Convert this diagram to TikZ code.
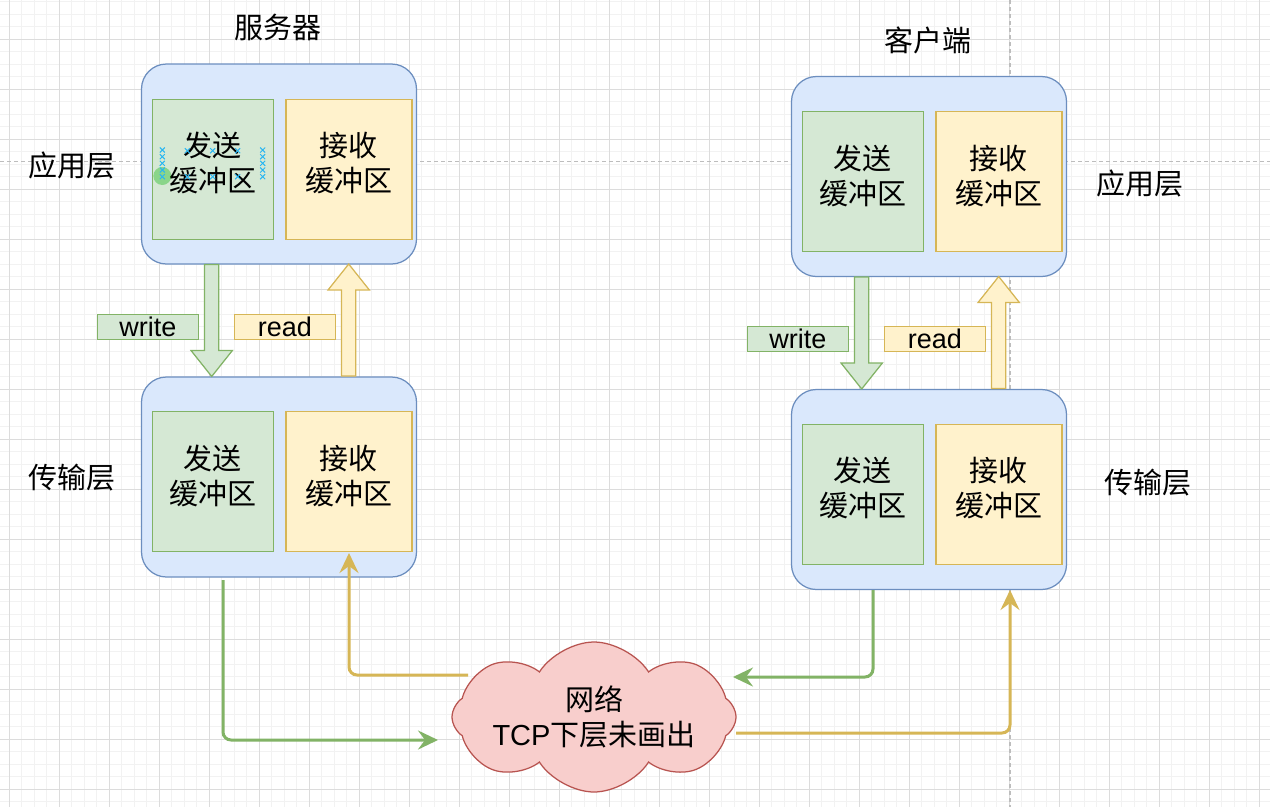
\documentclass[tikz,border=0pt]{standalone}
\usepackage{fontspec}
\setmainfont{Liberation Sans}
\newfontfamily\cjk{Noto Sans CJK SC}
\usepackage{tikz}
\usetikzlibrary{positioning, shapes.symbols, shapes.arrows, arrows.meta}
\definecolor{layerbg}{HTML}{DAE8FC}
\definecolor{layerframe}{HTML}{6C8EBF}
\definecolor{sendbg}{HTML}{D5E8D4}
\definecolor{sendframe}{HTML}{82B366}
\definecolor{recvbg}{HTML}{FFF2CC}
\definecolor{recvframe}{HTML}{D6B656}
\definecolor{netbg}{HTML}{F8CECC}
\definecolor{netframe}{HTML}{B85450}
\definecolor{gridminor}{HTML}{F2F2F2}
\definecolor{gridmajor}{HTML}{DCDCDC}
\definecolor{guideline}{HTML}{BDBDBD}
\definecolor{selmark}{HTML}{29B6F2}
\newcommand\bigtxt{\fontsize{29}{35}\selectfont}

\begin{document}
\begin{tikzpicture}[
        x=1pt, y=-1pt,
        layer/.style={draw=layerframe, fill=layerbg, line width=1.25pt, rounded corners=25pt, minimum width=275pt, minimum height=200pt},
        sendbuf/.style={draw=sendframe, fill=sendbg, line width=1.25pt, minimum width=121pt, minimum height=140pt, inner sep=0pt, text depth=14pt, align=center, font=\bigtxt\cjk},
        recvbuf/.style={draw=recvframe, fill=recvbg, line width=1.25pt, minimum width=126pt, minimum height=140pt, inner sep=0pt, text depth=14pt, align=center, font=\bigtxt\cjk},
        lbl/.style={font=\bigtxt\cjk, inner sep=0pt},
        wtag/.style={draw=sendframe, fill=sendbg, line width=1.25pt, minimum width=101pt, minimum height=25pt, inner sep=0pt, font=\fontsize{27}{30}\selectfont},
        rtag/.style={draw=recvframe, fill=recvbg, line width=1.25pt, minimum width=101pt, minimum height=25pt, inner sep=0pt, font=\fontsize{27}{30}\selectfont},
        blk/.style={single arrow, line width=1.25pt, inner xsep=0pt, inner ysep=6.5pt, single arrow head extend=13.5pt, single arrow tip angle=77, minimum height=112pt},
        wblk/.style={blk, draw=sendframe, fill=sendbg},
        rblk/.style={blk, draw=recvframe, fill=recvbg},
        sendline/.style={draw=sendframe, line width=3pt, rounded corners=8pt, -{Stealth[length=20pt, width=19pt, inset=7pt]}},
        recvline/.style={draw=recvframe, line width=3pt, rounded corners=8pt, -{Stealth[length=20pt, width=19pt, inset=7pt]}},
        minorg/.style={draw=gridminor, line width=1pt},
        majorg/.style={draw=gridmajor, line width=1pt},
        guide/.style={draw=guideline, line width=1.25pt, dash pattern=on 4pt off 3pt},
        selx/.style={draw=selmark, line width=1pt}
    ]
    \useasboundingbox (0,0) rectangle (1270,807);
    \fill[white] (0,0) rectangle (1270,807);

    % background grid
    \foreach \i in {0,...,102} \draw[minorg] ({-3.2+12.5*\i},0) -- ++(0,807);
    \foreach \i in {0,...,64} \draw[minorg] (0,{1.8+12.5*\i}) -- ++(1270,0);
    \foreach \i in {0,...,25} \draw[majorg] ({9.3+50*\i},0) -- ++(0,807);
    \foreach \i in {0,...,15} \draw[majorg] (0,{39.3+50*\i}) -- ++(1270,0);
    \draw[guide] (0,161.7) -- (1270,161.7);
    \draw[guide] (1010,0) -- (1010,807);

    % server
    \node[lbl] (srvname) at (278,27) {服务器};
    \node[layer] (srvapp) at (279,164) {};
    \node[sendbuf] (srvsend) at (212.8,169.2) {发送\\缓冲区};
    \node[recvbuf, right=11.4pt of srvsend] (srvrecv) {接收\\缓冲区};
    \node[layer] (srvtrans) at (279,477) {};
    \node[sendbuf] (srvtsend) at (212.8,481.7) {发送\\缓冲区};
    \node[recvbuf, right=11.4pt of srvtsend] (srvtrecv) {接收\\缓冲区};
    \node[lbl] (srvapplbl) at (72,165) {应用层};
    \node[lbl] (srvtranslbl) at (72,478) {传输层};
    \node[wblk, rotate=-90] (srvw) at (211.7,316) {};
    \node[rblk, rotate=90] (srvr) at (348.7,324.5) {};
    \node[wtag] (srvwtag) at (147.8,326.7) {write};
    \node[rtag] (srvrtag) at (285,326.7) {read};

    % selection marks
    \fill[green!70!black, opacity=0.35] (162.3,176) circle (9);
    \foreach \y in {150,156.7,163.3,170,176.7} {
        \draw[selx] (159.8,\y-2.5) -- ++(5,5) (159.8,\y+2.5) -- ++(5,-5);
        \draw[selx] (260.2,\y-2.5) -- ++(5,5) (260.2,\y+2.5) -- ++(5,-5);
    }
    \foreach \x in {187.3,212.7,237.7} \foreach \y in {150.7,176.7}
        \draw[selx] (\x-2.5,\y-2.5) -- ++(5,5) (\x-2.5,\y+2.5) -- ++(5,-5);

    % client
    \node[lbl] (cliname) at (928,40) {客户端};
    \node[layer] (cliapp) at (929,176.5) {};
    \node[sendbuf] (clisend) at (862.8,181.7) {发送\\缓冲区};
    \node[recvbuf, right=11.4pt of clisend] (clirecv) {接收\\缓冲区};
    \node[layer] (clitrans) at (929,489.5) {};
    \node[sendbuf] (clitsend) at (862.8,494.2) {发送\\缓冲区};
    \node[recvbuf, right=11.4pt of clitsend] (clitrecv) {接收\\缓冲区};
    \node[lbl] (cliapplbl) at (1140,183) {应用层};
    \node[lbl] (clitranslbl) at (1148,483) {传输层};
    \node[wblk, rotate=-90] (cliw) at (861.7,328.5) {};
    \node[rblk, rotate=90] (clir) at (998.7,337) {};
    \node[wtag] (cliwtag) at (797.8,339.2) {write};
    \node[rtag] (clirtag) at (934.8,339.2) {read};

    % network
    \node[cloud, cloud puffs=8, cloud puff arc=115, cloud ignores aspect, draw=netframe, fill=netbg, line width=1.25pt, minimum width=284pt, minimum height=150pt, inner sep=0pt, align=center, font=\bigtxt] (net) at (594,717) {{\cjk 网络}\\TCP{\cjk 下层未画出}};

    \coordinate (srvout) at (223,580);
    \coordinate (netin) at (438,740);
    \coordinate (netout) at (468,675);
    \coordinate (srvin) at (349,553);
    \coordinate (cliout) at (873,590);
    \coordinate (netin2) at (733,677);
    \coordinate (netout2) at (736,733);
    \coordinate (cliin) at (1010,590);
    \draw[sendline] (srvout) |- (netin);
    \draw[recvline] (netout) -| (srvin);
    \draw[sendline] (cliout) |- (netin2);
    \draw[recvline] (netout2) -| (cliin);

\end{tikzpicture}
\end{document}
